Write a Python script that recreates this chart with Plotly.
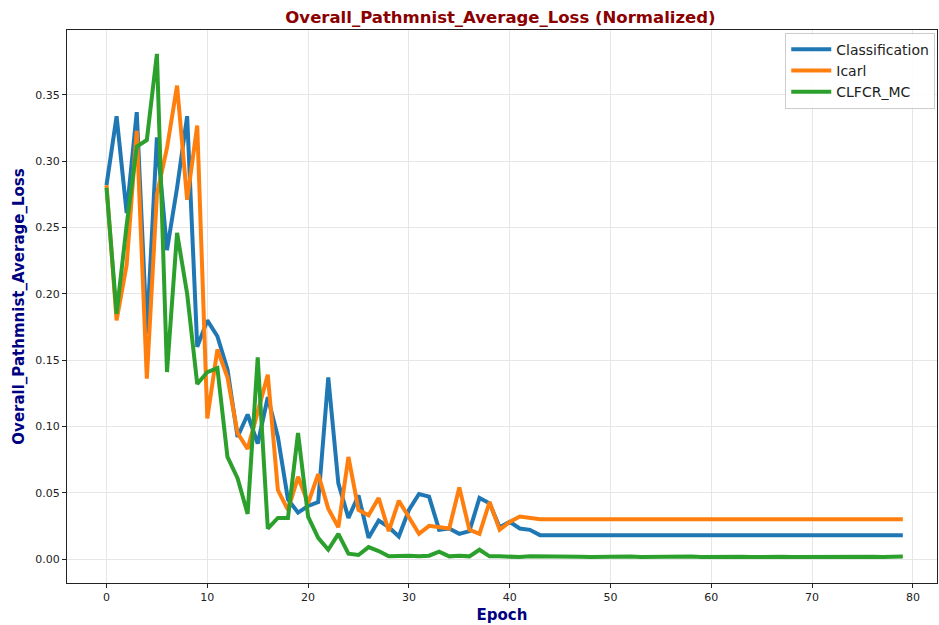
import plotly.graph_objects as go

epochs = list(range(80))

classification = [
    0.282, 0.334, 0.261, 0.337, 0.170, 0.318, 0.233, 0.280, 0.334, 0.160,
    0.180, 0.168, 0.143, 0.092, 0.109, 0.087, 0.122, 0.092, 0.045, 0.035,
    0.040, 0.043, 0.137, 0.057, 0.031, 0.048, 0.016, 0.029, 0.024, 0.017,
    0.037, 0.049, 0.047, 0.022, 0.023, 0.019, 0.021, 0.046, 0.042, 0.024,
    0.028, 0.023, 0.022, 0.018, 0.018, 0.018, 0.018, 0.018, 0.018, 0.018,
    0.018, 0.018, 0.018, 0.018, 0.018, 0.018, 0.018, 0.018, 0.018, 0.018,
    0.018, 0.018, 0.018, 0.018, 0.018, 0.018, 0.018, 0.018, 0.018, 0.018,
    0.018, 0.018, 0.018, 0.018, 0.018, 0.018, 0.018, 0.018, 0.018, 0.018,
]

icarl = [
    0.282, 0.180, 0.222, 0.323, 0.136, 0.275, 0.310, 0.357, 0.271, 0.327,
    0.106, 0.158, 0.137, 0.095, 0.083, 0.110, 0.139, 0.052, 0.037, 0.062,
    0.042, 0.064, 0.038, 0.024, 0.077, 0.037, 0.033, 0.046, 0.021, 0.044,
    0.032, 0.019, 0.025, 0.024, 0.023, 0.054, 0.022, 0.019, 0.043, 0.022,
    0.028, 0.032, 0.031, 0.030, 0.030, 0.030, 0.030, 0.030, 0.030, 0.030,
    0.030, 0.030, 0.030, 0.030, 0.030, 0.030, 0.030, 0.030, 0.030, 0.030,
    0.030, 0.030, 0.030, 0.030, 0.030, 0.030, 0.030, 0.030, 0.030, 0.030,
    0.030, 0.030, 0.030, 0.030, 0.030, 0.030, 0.030, 0.030, 0.030, 0.030,
]

clfcr_mc = [
    0.280, 0.185, 0.252, 0.311, 0.316, 0.381, 0.141, 0.246, 0.200, 0.132,
    0.141, 0.144, 0.077, 0.061, 0.034, 0.152, 0.023, 0.031, 0.031, 0.095,
    0.032, 0.016, 0.007, 0.019, 0.004, 0.003, 0.009, 0.006, 0.002, 0.0025,
    0.0025, 0.002, 0.0025, 0.0055, 0.002, 0.0025, 0.002, 0.007, 0.002, 0.002,
    0.0015, 0.0015, 0.002, 0.0018, 0.0016, 0.0018, 0.0015, 0.0017, 0.0016, 0.0018,
    0.0017, 0.0015, 0.0018, 0.0016, 0.0017, 0.0020, 0.0017, 0.0016, 0.0018, 0.0015,
    0.0017, 0.0016, 0.0018, 0.0017, 0.0015, 0.0018, 0.0016, 0.0017, 0.0015, 0.0016,
    0.0017, 0.0015, 0.0016, 0.0017, 0.0015, 0.0016, 0.0017, 0.0015, 0.0016, 0.0018,
]

series_names = ["Classification", "Icarl", "CLFCR_MC"]
series_colors = ["#1f77b4", "#ff7f0e", "#2ca02c"]
x_ticks = [0, 10, 20, 30, 40, 50, 60, 70, 80]
y_ticks = [0.00, 0.05, 0.10, 0.15, 0.20, 0.25, 0.30, 0.35]

fig = go.Figure()
for name, vals, col in zip(series_names, [classification, icarl, clfcr_mc], series_colors):
    fig.add_trace(go.Scatter(x=epochs, y=vals, mode="lines", name=name,
                             line=dict(color=col, width=4)))

axis_common = dict(
    showline=True, linecolor="#222", linewidth=1.3, mirror=True,
    showgrid=True, gridcolor="#e6e6e6", gridwidth=1,
    ticks="outside", ticklen=4, tickcolor="#222",
    tickfont=dict(family="DejaVu Sans", size=11, color="#222"),
    zeroline=False,
)

fig.update_layout(
    width=939, height=625,
    margin=dict(l=67, r=2, t=30, b=42),
    paper_bgcolor="white", plot_bgcolor="white",
    title=dict(text="<b>Overall_Pathmnist_Average_Loss (Normalized)</b>",
               x=0.533, xanchor="center", y=0.973, yanchor="middle",
               font=dict(family="DejaVu Sans", size=16.5, color="#8b0000")),
    xaxis=dict(range=[-3.92, 82.39], tickvals=x_ticks,
               title=dict(text="<b>Epoch</b>", standoff=6,
                          font=dict(family="DejaVu Sans", size=15, color="#000080")),
               **axis_common),
    yaxis=dict(range=[-0.0181, 0.399], tickvals=y_ticks, tickformat=".2f",
               title=dict(text="<b>Overall_Pathmnist_Average_Loss</b>", standoff=6,
                          font=dict(family="DejaVu Sans", size=15, color="#000080")),
               **axis_common),
    legend=dict(x=0.998, y=0.995, xanchor="right", yanchor="top",
                bgcolor="rgba(255,255,255,0.85)", bordercolor="#cccccc", borderwidth=1,
                font=dict(family="DejaVu Sans", size=14, color="#222"),
                itemwidth=40, tracegroupgap=0),
    showlegend=True,
)

fig.write_html("out.html")
